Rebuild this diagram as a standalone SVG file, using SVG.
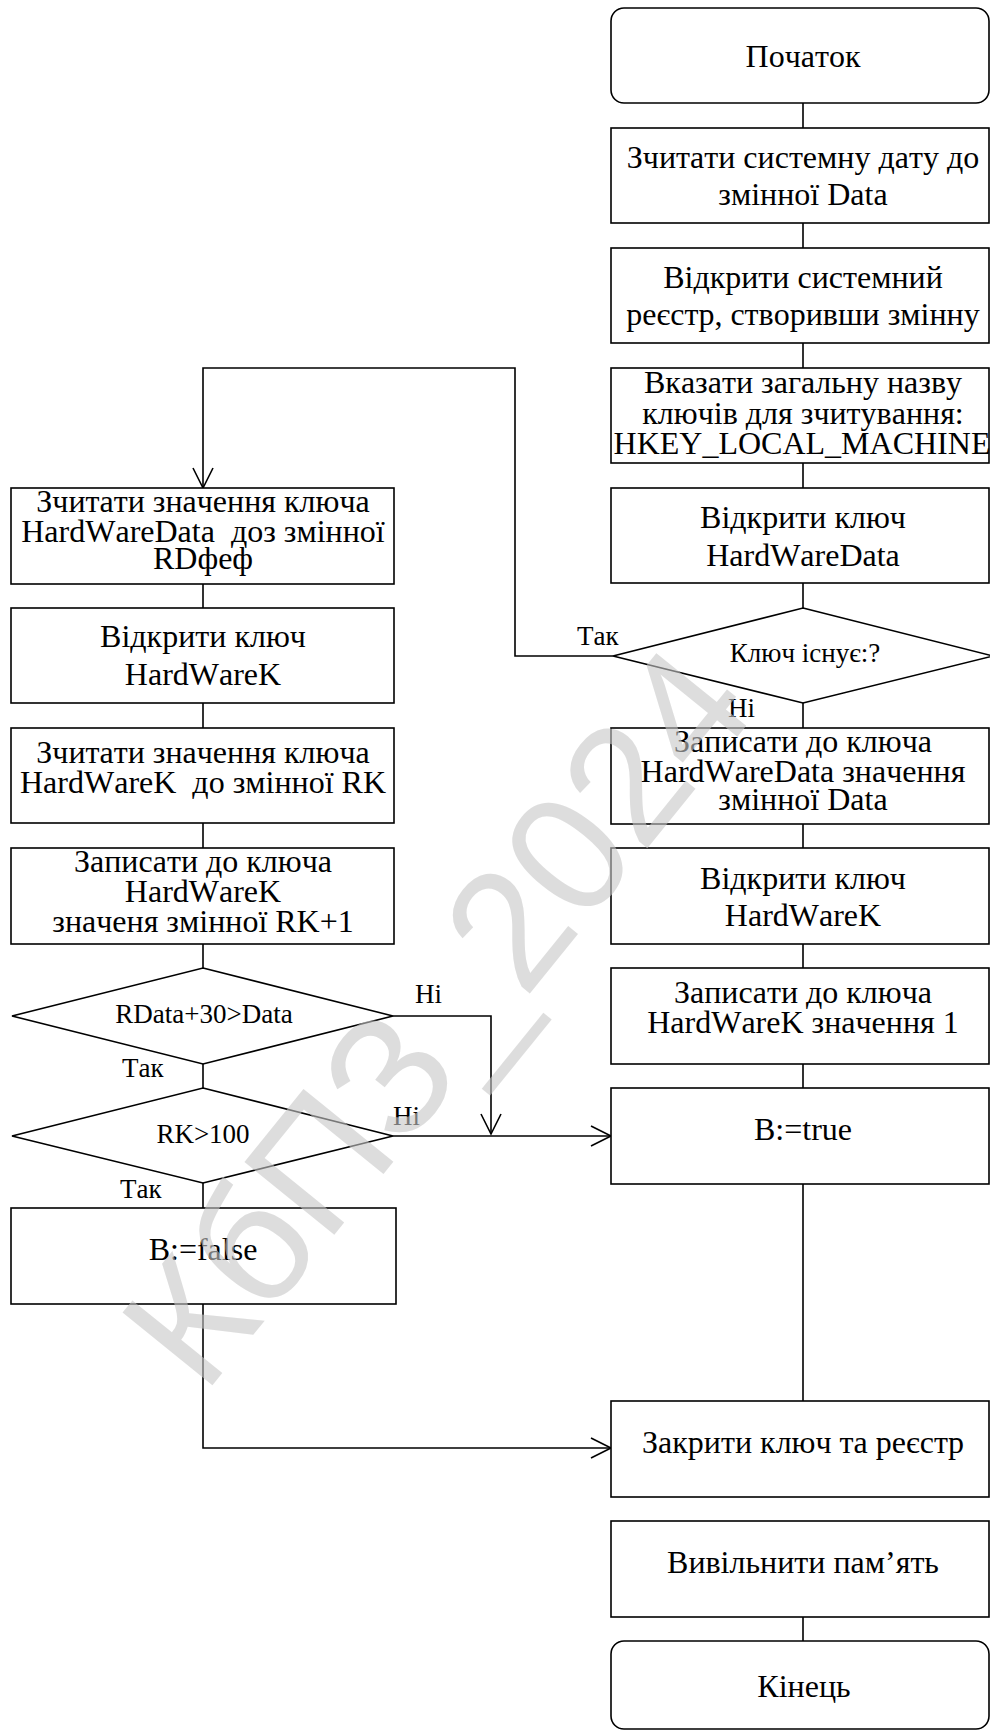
<svg xmlns="http://www.w3.org/2000/svg" width="990" height="1732" viewBox="0 0 990 1732">
  <defs>
    <style>
      .box { fill: #ffffff; stroke: #000000; stroke-width: 1.6; }
      .ln { fill: none; stroke: #000000; stroke-width: 1.6; }
      .t { font-family: "Liberation Serif", "Times New Roman", serif; font-size: 32px; fill: #000000; text-anchor: middle; font-kerning: none; white-space: pre; }
      .s { font-family: "Liberation Serif", "Times New Roman", serif; font-size: 27px; fill: #000000; font-kerning: none; }
      .c { text-anchor: middle; }
      .wm { font-family: "Liberation Sans", Arial, sans-serif; font-size: 168px; fill: #c8c8c8; opacity: 0.6; text-anchor: middle; }
    </style>
    <marker id="arrow" markerUnits="userSpaceOnUse" markerWidth="24" markerHeight="24" refX="21" refY="11" orient="auto">
      <path d="M1,1 L21,11 L1,21" fill="none" stroke="#000000" stroke-width="1.6"/>
    </marker>
  </defs>
  <rect width="990" height="1732" fill="#ffffff"/>

  <!-- connectors -->
  <g id="connectors">
    <path class="ln" d="M803,103 V128 M803,223 V248 M803,343 V368 M803,463 V488 M803,583 V608 M803,703 V728 M803,824 V848 M803,944 V968 M803,1064 V1088 M803,1184 V1401 M803,1617 V1641"/>
    <path class="ln" d="M203,584 V608 M203,703 V728 M203,823 V848 M203,944 V968 M203,1064 V1088 M203,1183 V1208"/>
    <path class="ln" d="M613,656 H515 V368 H203 V488" marker-end="url(#arrow)"/>
    <path class="ln" d="M393,1016 H491 V1134" marker-end="url(#arrow)"/>
    <path class="ln" d="M393,1136 H611" marker-end="url(#arrow)"/>
    <path class="ln" d="M203,1304 V1448 H611" marker-end="url(#arrow)"/>
    <text class="s" x="577" y="645">Так</text>
    <text class="s" x="728" y="717">Ні</text>
    <text class="s" x="415" y="1003">Ні</text>
    <text class="s" x="122" y="1077">Так</text>
    <text class="s" x="393" y="1125">Ні</text>
    <text class="s" x="120" y="1198">Так</text>
  </g>

  <!-- right column -->
  <g id="start">
    <rect class="box" x="611" y="8" width="378" height="95" rx="13"/>
    <text class="t" x="803" y="67">Початок</text>
  </g>
  <g id="read-date">
    <rect class="box" x="611" y="128" width="378" height="95"/>
    <text class="t" x="803" y="168">Зчитати системну дату до</text>
    <text class="t" x="803" y="205">змінної Data</text>
  </g>
  <g id="open-registry">
    <rect class="box" x="611" y="248" width="378" height="95"/>
    <text class="t" x="803" y="288">Відкрити системний</text>
    <text class="t" x="803" y="325">реєстр, створивши змінну</text>
  </g>
  <g id="root-key">
    <rect class="box" x="611" y="368" width="378" height="95"/>
    <text class="t" x="803" y="393">Вказати загальну назву</text>
    <text class="t" x="803" y="424">ключів для зчитування:</text>
    <text class="t" x="802" y="454">HKEY_LOCAL_MACHINE</text>
  </g>
  <g id="open-data-key">
    <rect class="box" x="611" y="488" width="378" height="95"/>
    <text class="t" x="803" y="528">Відкрити ключ</text>
    <text class="t" x="803" y="566">HardWareData</text>
  </g>
  <g id="key-exists">
    <polygon class="box" points="803,608 993,656 803,703 613,656"/>
    <text class="s c" x="805" y="662">Ключ існує:?</text>
  </g>
  <g id="write-data">
    <rect class="box" x="611" y="728" width="378" height="96"/>
    <text class="t" x="803" y="752">Записати до ключа</text>
    <text class="t" x="803" y="782">HardWareData значення</text>
    <text class="t" x="803" y="810">змінної Data</text>
  </g>
  <g id="open-k-right">
    <rect class="box" x="611" y="848" width="378" height="96"/>
    <text class="t" x="803" y="889">Відкрити ключ</text>
    <text class="t" x="803" y="926">HardWareK</text>
  </g>
  <g id="write-k-one">
    <rect class="box" x="611" y="968" width="378" height="96"/>
    <text class="t" x="803" y="1003">Записати до ключа</text>
    <text class="t" x="803" y="1033">HardWareK значення 1</text>
  </g>
  <g id="set-true">
    <rect class="box" x="611" y="1088" width="378" height="96"/>
    <text class="t" x="803" y="1140">B:=true</text>
  </g>
  <g id="close-key">
    <rect class="box" x="611" y="1401" width="378" height="96"/>
    <text class="t" x="803" y="1453">Закрити ключ та реєстр</text>
  </g>
  <g id="free-memory">
    <rect class="box" x="611" y="1521" width="378" height="96"/>
    <text class="t" x="803" y="1573">Вивільнити пам’ять</text>
  </g>
  <g id="end">
    <rect class="box" x="611" y="1641" width="378" height="88" rx="13"/>
    <text class="t" x="804" y="1697">Кінець</text>
  </g>

  <!-- left column -->
  <g id="read-data-key">
    <rect class="box" x="11" y="488" width="383" height="96"/>
    <text class="t" x="203" y="512">Зчитати значення ключа</text>
    <text class="t" x="203" y="542">HardWareData  доз змінної</text>
    <text class="t" x="203" y="569">RDфеф</text>
  </g>
  <g id="open-k-left">
    <rect class="box" x="11" y="608" width="383" height="95"/>
    <text class="t" x="203" y="647">Відкрити ключ</text>
    <text class="t" x="203" y="685">HardWareK</text>
  </g>
  <g id="read-k">
    <rect class="box" x="11" y="728" width="383" height="95"/>
    <text class="t" x="203" y="763">Зчитати значення ключа</text>
    <text class="t" x="203" y="793">HardWareK  до змінної RK</text>
  </g>
  <g id="write-k-inc">
    <rect class="box" x="11" y="848" width="383" height="96"/>
    <text class="t" x="203" y="872">Записати до ключа</text>
    <text class="t" x="203" y="902">HardWareK</text>
    <text class="t" x="203" y="932">значеня змінної RK+1</text>
  </g>
  <g id="date-check">
    <polygon class="box" points="203,968 393,1016 203,1064 12,1016"/>
    <text class="s c" x="204" y="1023">RData+30&gt;Data</text>
  </g>
  <g id="count-check">
    <polygon class="box" points="203,1088 393,1136 203,1183 12,1136"/>
    <text class="s c" x="203" y="1143">RK&gt;100</text>
  </g>
  <g id="set-false">
    <rect class="box" x="11" y="1208" width="385" height="96"/>
    <text class="t" x="203" y="1260">B:=false</text>
  </g>

  <!-- watermark -->
  <text class="wm" transform="translate(435,1015) rotate(-51)" y="60">КбПЗ_2024</text>
</svg>
